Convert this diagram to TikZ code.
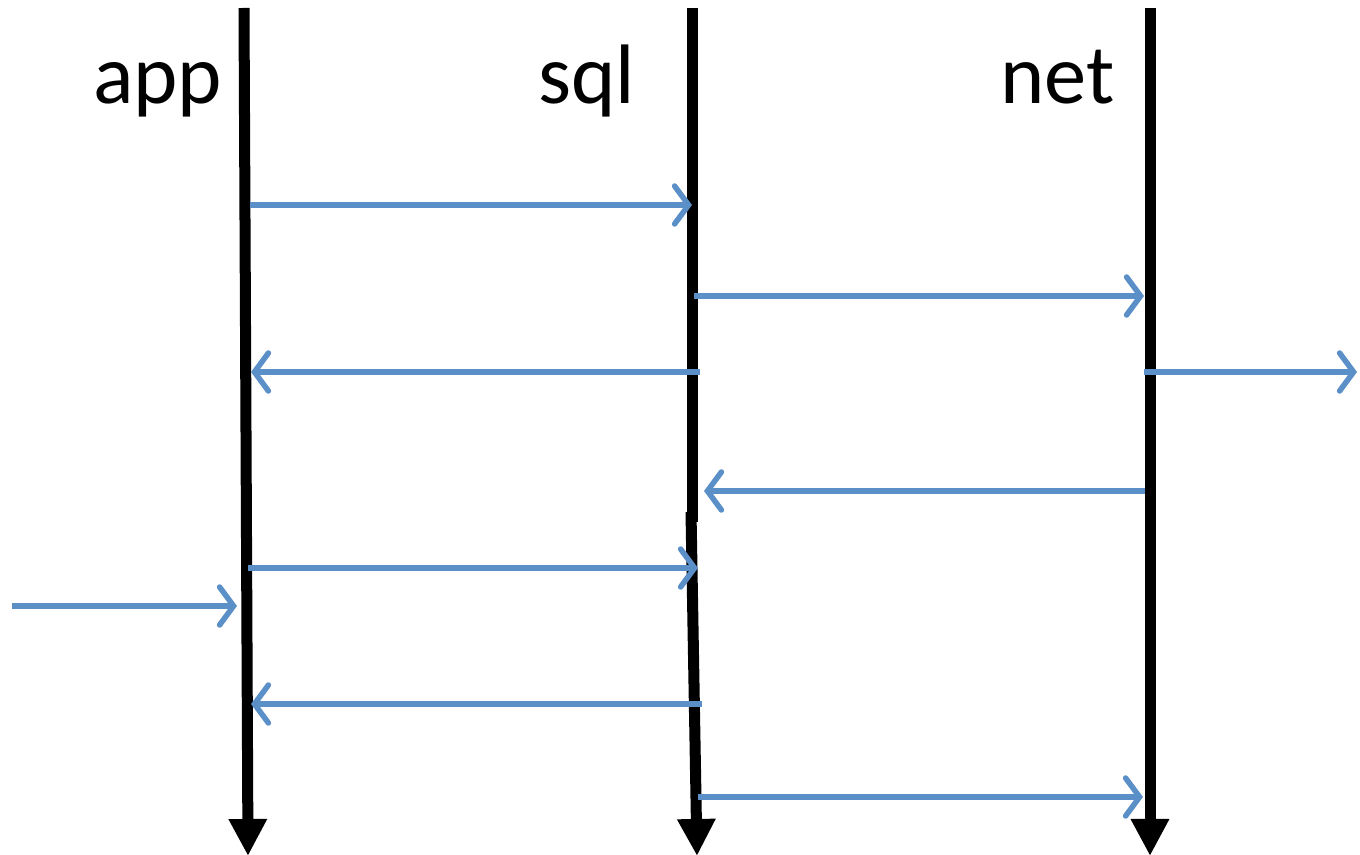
\documentclass[tikz,border=0pt]{standalone}
\usepackage{fontspec}
\setmainfont{Carlito}
\usetikzlibrary{arrows.meta}
\definecolor{msgblue}{RGB}{91,143,200}
\begin{document}
\begin{tikzpicture}[x=0.01cm,y=-0.01cm,
  lifeline/.style={line width=0.11cm, black, -{Triangle[length=0.37cm,width=0.36cm]}},
  msg/.style={line width=0.055cm, msgblue, -{Straight Barb[length=1.4mm,width=3.8mm,line cap=round]}},
  lbl/.style={font=\fontsize{24}{29}\selectfont, anchor=base east, inner sep=0pt}]
\useasboundingbox (0,0) rectangle (1360,855);
% lifelines
\coordinate (appTop) at (244,8);
\coordinate (appBot) at (248,856);
\coordinate (sqlTop) at (692,8);
\coordinate (sqlMid) at (692,522);
\coordinate (sqlMidB) at (691,512);
\coordinate (sqlBot) at (697,856);
\coordinate (netTop) at (1150,8);
\coordinate (netBot) at (1150,856);
\draw[line width=0.11cm] (sqlTop) -- (sqlMid);
\draw[lifeline] (appTop) -- (appBot);
\draw[lifeline] (sqlMidB) -- (sqlBot);
\draw[lifeline] (netTop) -- (netBot);
% labels
\node[lbl] (app) at (223,104) {app};
\node[lbl] (sql) at (636,104) {sql};
\node[lbl] (net) at (1115,104) {net};
% messages
\coordinate (m1a) at (250,205); \coordinate (m1b) at (692,205);
\coordinate (m2a) at (694,296); \coordinate (m2b) at (1144,296);
\coordinate (m3a) at (700,372); \coordinate (m3b) at (251,372);
\coordinate (m4a) at (1144,372); \coordinate (m4b) at (1357,372);
\coordinate (m5a) at (1145,491); \coordinate (m5b) at (704,491);
\coordinate (m6a) at (248,568); \coordinate (m6b) at (698,568);
\coordinate (m7a) at (12,606); \coordinate (m7b) at (237,606);
\coordinate (m8a) at (702,704); \coordinate (m8b) at (251,704);
\coordinate (m9a) at (698,797); \coordinate (m9b) at (1143,797);
\foreach \i in {1,...,9} {\draw[msg] (m\i a) -- (m\i b);}
\end{tikzpicture}
\end{document}
